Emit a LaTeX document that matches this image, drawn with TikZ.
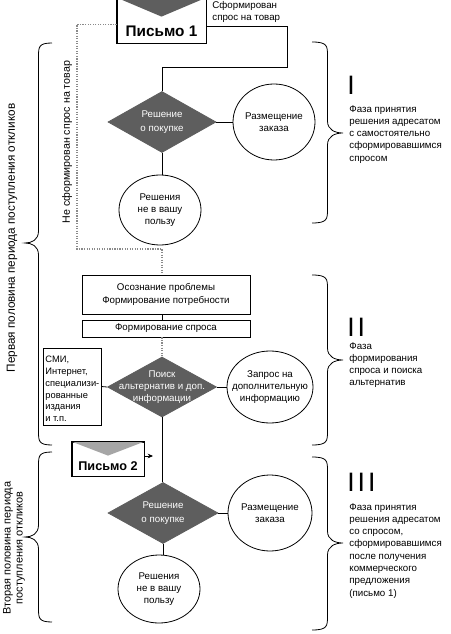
\documentclass[tikz,border=0pt]{standalone}
\usepackage{fontspec}
\setmainfont{Liberation Sans}
\usetikzlibrary{shapes.geometric,calc,arrows.meta,patterns}
\definecolor{dk}{HTML}{5E5E5E}
\definecolor{dotc}{HTML}{8A8A8A}
\newcommand\BrX[5]{% x0, ytop, ymid, ybot, signed width
  \draw[bracel] (#1,#2) .. controls ({#1+0.5*(#5)},#2) and ({#1+0.5*(#5)},#2+4) .. ({#1+0.5*(#5)},#2+14)
    -- ({#1+0.5*(#5)},#3-12) .. controls ({#1+0.5*(#5)},#3-3) and ({#1+0.75*(#5)},#3) .. ({#1+(#5)},#3)
    .. controls ({#1+0.75*(#5)},#3) and ({#1+0.5*(#5)},#3+3) .. ({#1+0.5*(#5)},#3+12)
    -- ({#1+0.5*(#5)},#4-14) .. controls ({#1+0.5*(#5)},#4-4) and ({#1+0.5*(#5)},#4) .. (#1,#4);}
\begin{document}
\begin{tikzpicture}[x=0.75pt,y=-0.75pt,
  line width=0.6pt,
  txt/.style={font=\fontsize{7.3}{9.2}\selectfont, align=center, inner sep=0pt},
  wtxt/.style={txt, text=white},
  ltxt/.style={font=\fontsize{7}{8.8}\selectfont, align=left, inner sep=0pt},
  dia/.style={diamond, draw=dk, fill=dk, inner sep=0pt, minimum width=#1},
  ell/.style={ellipse, draw, inner sep=0pt},
  bx/.style={rectangle, draw, inner sep=0pt},
  dl/.style={draw=dotc, densely dotted, line width=0.9pt},
  bracel/.style={line width=0.6pt},
  envt/.style={font=\bfseries\fontsize{#1}{#1}\selectfont, inner sep=0pt},
  big/.style={font=\fontsize{20}{20}\selectfont, inner sep=0pt, anchor=north west}
]
\useasboundingbox (0,0) rectangle (450,634);

% ---- envelope 1
\node[bx, fill=white, minimum width=66.75pt, minimum height=33.75pt] (env1) at (161.5,20.5) {};
\fill[dk] (env1.north west) -- (env1.north east) -- ($(env1.north)+(0,19)$) -- cycle;
\draw (env1.north west) rectangle (env1.south east);
\node[envt=11.5] (env1t) at (161.5,31) {Письмо 1};
\node[txt, align=left, anchor=north west] (sf) at (212,1) {Сформирован\\спрос на товар};

% ---- phase I
\node[dia, minimum width=81pt, minimum height=45.75pt] (d1) at (162,122) {};
\node[wtxt, font=\fontsize{7.3}{10.5}\selectfont] (d1t) at (d1) {Решение\\о покупке};
\node[ell, minimum width=61.5pt, minimum height=57pt] (e1) at (274,122) {};
\node[txt] (e1t) at (e1) {Размещение\\заказа};
\node[ell, minimum width=61.5pt, minimum height=52.5pt] (c1) at (160,210) {};
\node[txt] (c1t) at (c1) {Решения\\не в вашу\\пользу};

% ---- phase II
\node[bx, minimum width=126pt, minimum height=29.25pt] (b1) at (166,294.5) {};
\node[txt] (b1t) at (b1) {Осознание проблемы\\Формирование потребности};
\node[bx, minimum width=126pt, minimum height=12.75pt] (b2) at (166,328.5) {};
\node[txt] (b2t) at (b2) {Формирование спроса};
\node[dia, minimum width=81.75pt, minimum height=45pt] (d2) at (162,387) {};
\node[wtxt] (d2t) at (d2) {Поиск\\альтернатив и доп.\\информации};
\node[bx, minimum width=43.5pt, minimum height=57.75pt] (smi) at (72,386.5) {};
\node[ltxt, anchor=north west] (smit) at (45,356) {СМИ,\\Интернет,\\специализи-\\рованные\\издания\\и т.п.};
\node[ell, minimum width=64.5pt, minimum height=54pt] (e2) at (270,387) {};
\node[txt] (e2t) at (e2) {Запрос на\\дополнительную\\информацию};

% ---- envelope 2
\node[bx, fill=white, minimum width=54pt, minimum height=25.5pt] (env2) at (108,459) {};
\fill[gray!70] (env2.north west) -- (env2.north east) -- ($(env2.north)+(0,14)$) -- cycle;
\draw (env2.north west) rectangle (env2.south east);
\node[envt=9.5] (env2t) at (108,466) {Письмо 2};
\coordinate (a2) at (153,456);

% ---- phase III
\node[dia, minimum width=82.5pt, minimum height=45.75pt] (d3) at (163,513) {};
\node[wtxt, font=\fontsize{7.3}{10.5}\selectfont] (d3t) at (d3) {Решение\\о покупке};
\node[ell, minimum width=63pt, minimum height=57pt] (e3) at (270,513) {};
\node[txt] (e3t) at (e3) {Размещение\\заказа};
\node[ell, minimum width=61.5pt, minimum height=51pt] (c3) at (159,589) {};
\node[txt] (c3t) at (c3) {Решения\\не в вашу\\пользу};

% ---- connectors
\draw[dl] ($(env1.west)+(0,4)$) -| (77,249) -| (b1.north -| d1.south);
\draw ($(env1.east)+(0,6)$) -| (287,67) -| (d1.north);
\draw (d1.east) -- (e1.west);
\draw (d1.south) -- (d1.south |- c1.north);
\draw (b1.south -| d2.north) -- (b2.north -| d2.north);
\draw[dl] (b2.south -| d2.north) -- (d2.north);
\draw (smi.east) -- (d2.west);
\draw (d2.east) -- (e2.west);
\draw (d2.south) -- (d2.south |- d3.north);
\draw[-{Stealth[length=4pt,width=3.5pt]}] (env2.east |- a2) -- (a2);
\draw (d3.east) -- (e3.west);
\draw (d3.south) -- (d3.south |- c3.north);

% ---- rotated labels
\node[txt, rotate=90, font=\fontsize{8}{9.6}\selectfont] (nesf) at (67,142) {Не сформирован спрос на товар};
\node[txt, rotate=90, font=\fontsize{8.8}{10}\selectfont] (first) at (12,238) {Первая половина периода поступления откликов};
\node[txt, rotate=90, font=\fontsize{8.2}{9}\selectfont] (second) at (14,548) {Вторая половина периода\\поступления откликов};

% ---- braces
\BrX{52}{43}{243}{445}{-27}
\BrX{52}{452}{537}{622}{-27}
\BrX{312}{42}{133}{223}{31}
\BrX{312}{275}{360}{445}{31}
\BrX{312}{457}{543}{630}{31}

% ---- phase descriptions
\node[big] (n1) at (347,76) {I};
\node[txt, align=left, anchor=north west] (p1) at (349,105) {Фаза принятия\\решения адресатом\\с самостоятельно\\сформировавшимся\\спросом};
\node[big] (n2) at (347,318) {I\kern2.2pt I};
\node[txt, align=left, anchor=north west] (p2) at (349,342) {Фаза\\формирования\\спроса и поиска\\альтернатив};
\node[big] (n3) at (347,473) {I\kern2.2pt I\kern2.2pt I};
\node[txt, align=left, anchor=north west] (p3) at (349,503) {Фаза принятия\\решения адресатом\\со спросом,\\сформировавшимся\\после получения\\коммерческого\\предложения\\(письмо 1)};
\end{tikzpicture}
\end{document}
